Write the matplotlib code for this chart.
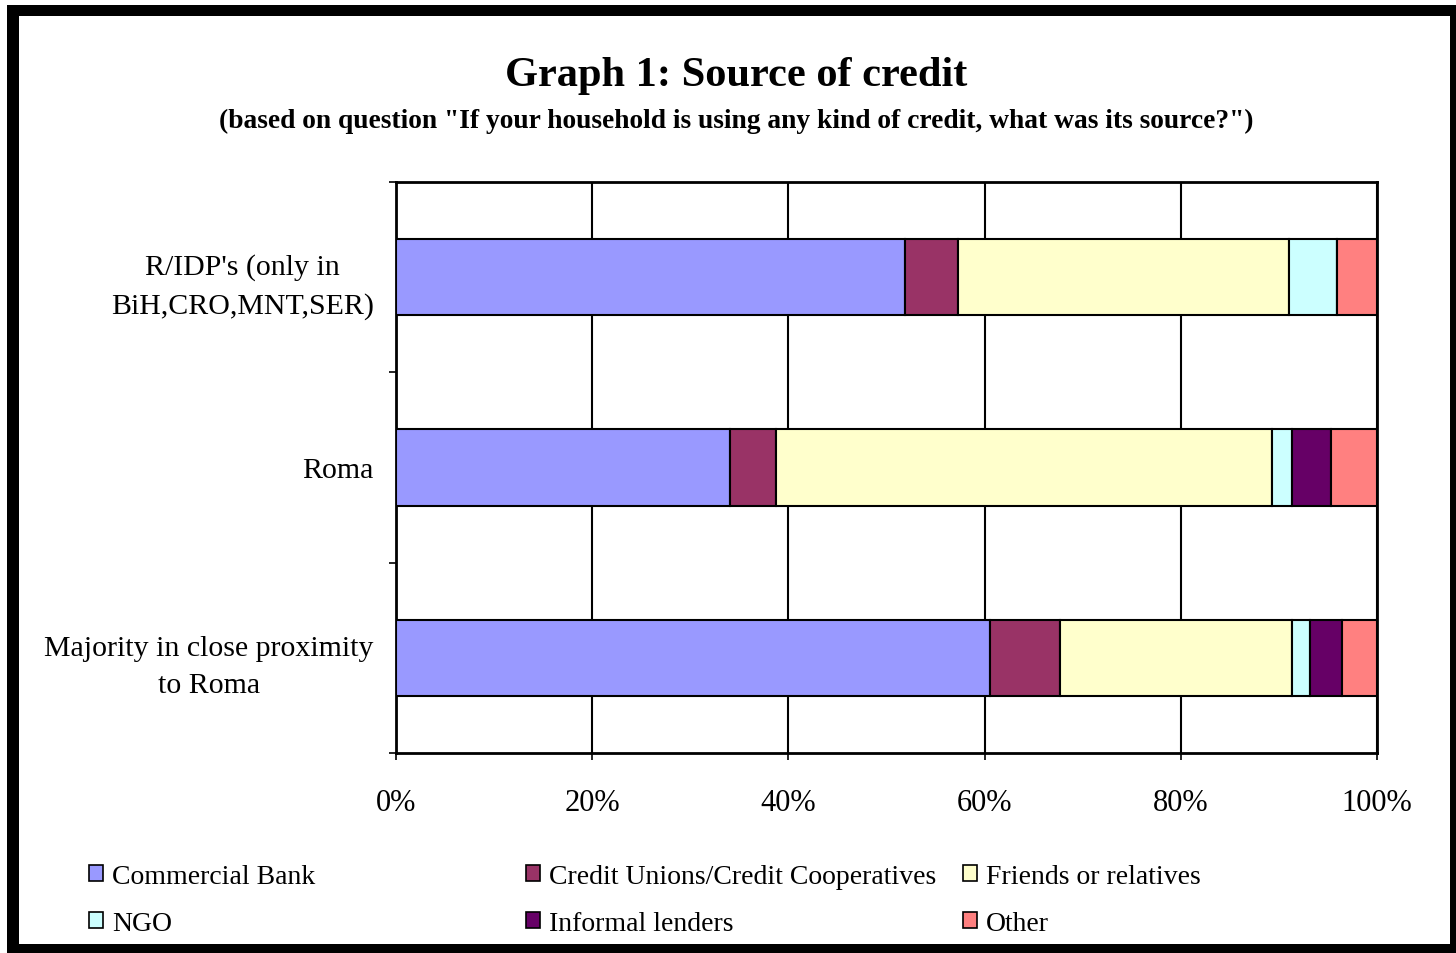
import numpy as np
import matplotlib
matplotlib.use("Agg")
import matplotlib.pyplot as plt
from matplotlib.patches import Rectangle, Patch

plt.rcParams['font.family'] = ['Liberation Serif', 'DejaVu Serif']

# data (percent shares)
groups = ["R/IDP's (only in\nBiH,CRO,MNT,SER)", "Roma", "Majority in close proximity\nto Roma"]
sources = ["Commercial Bank", "Credit Unions/Credit Cooperatives", "Friends or relatives",
           "NGO", "Informal lenders", "Other"]
commercial_bank = [51.9, 34.0, 60.6]
credit_unions = [5.4, 4.7, 7.1]
friends = [33.7, 50.6, 23.6]
ngo = [4.9, 2.0, 1.9]
informal = [0.0, 4.0, 3.2]
other = [4.1, 4.7, 3.6]
xticks = [0, 20, 40, 60, 80, 100]

colors = ["#9999FF", "#993366", "#FFFFCC", "#CCFFFF", "#660066", "#FF8080"]
series = [commercial_bank, credit_unions, friends, ngo, informal, other]

fig = plt.figure(figsize=(14.56, 9.54), dpi=100)
fig.patch.set_facecolor("white")

# outer frame
fig.patches.append(Rectangle((7 / 1456, 0), 1 - 7 / 1456, 1 - 6 / 954, transform=fig.transFigure,
                             facecolor="black", edgecolor="none", zorder=-2))
fig.patches.append(Rectangle((19 / 1456, 9 / 954), (1450 - 19) / 1456, (945 - 17) / 954,
                             transform=fig.transFigure, facecolor="white", edgecolor="none", zorder=-1))

ax = fig.add_axes([396 / 1456, 1 - 754 / 954, (1377 - 396) / 1456, (754 - 183) / 954])

y = np.arange(len(groups))
left = np.zeros(len(groups))
for vals, col in zip(series, colors):
    ax.barh(y, vals, left=left, height=0.4, color=col, edgecolor="black", linewidth=1.5, zorder=3)
    left += np.array(vals)

ax.set_xlim(0, 100)
ax.set_ylim(2.5, -0.5)
ax.set_xticks(xticks)
ax.set_xticklabels([f"{t}%" for t in xticks], fontsize=22)
ax.tick_params(axis="x", length=5, width=1.2, pad=20, color="black")
ax.xaxis.grid(True, color="black", linewidth=1.5, zorder=0)
ax.set_axisbelow(True)

ax.set_yticks(y)
ax.set_yticklabels(groups, fontsize=21.5, multialignment="center", linespacing=1.55)
ax.tick_params(axis="y", which="major", length=0, pad=16)
ax.set_yticks([-0.5, 0.5, 1.5, 2.5], minor=True)
ax.tick_params(axis="y", which="minor", length=5, width=1.2)

for s in ax.spines.values():
    s.set_linewidth(2)
    s.set_color("black")

fig.text(736 / 1456, 1 - 76 / 954, "Graph 1: Source of credit", ha="center", va="center",
         fontsize=30.5, fontweight="bold")
fig.text(736 / 1456, 1 - 121 / 954,
         '(based on question "If your household is using any kind of credit, what was its source?")',
         ha="center", va="center", fontsize=19.8, fontweight="bold")

handles = [Patch(facecolor=c, edgecolor="black", linewidth=1.2) for c in colors]
col_x = [89 / 1456, 526 / 1456, 963 / 1456]
for i in range(3):
    leg = fig.legend([handles[i], handles[i + 3]], [sources[i], sources[i + 3]],
                     loc="upper left", bbox_to_anchor=(col_x[i], 1 - 865 / 954),
                     frameon=False, fontsize=20, handlelength=0.52, handleheight=0.52,
                     handletextpad=0.3, labelspacing=0.8, borderaxespad=0, borderpad=0)

fig.savefig("out.png", dpi=100, facecolor="white")
